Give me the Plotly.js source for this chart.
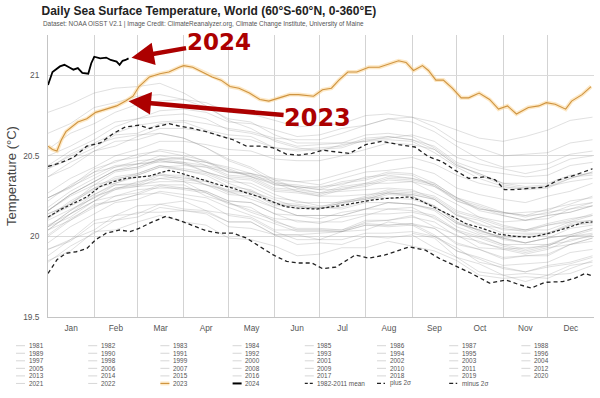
<!DOCTYPE html>
<html><head><meta charset="utf-8">
<script src="https://cdn.plot.ly/plotly-3.0.1.min.js"></script>
<style>html,body{margin:0;padding:0;background:#fff}#chart{width:600px;height:398px}</style>
</head><body><div id="chart"></div>
<script>
// ---------- DATA ----------
const titleText = 'Daily Sea Surface Temperature, World (60°S-60°N, 0-360°E)';
const subtitleText = 'Dataset: NOAA OISST V2.1 | Image Credit: ClimateReanalyzer.org, Climate Change Institute, University of Maine';
const monthTicks = ['Jan','Feb','Mar','Apr','May','Jun','Jul','Aug','Sep','Oct','Nov','Dec'];

// day-of-year sampling used for the background years
const daysGrid = [1,16,32,46,61,76,92,107,122,137,153,168,183,198,214,229,245,260,275,290,306,321,336,351,366];

const y1981 = [null,null,null,null,null,null,null,null,null,null,null,null,null,null,null,null,20.02,19.99,19.87,19.83,19.76,19.77,19.76,19.82,19.84];
const y1982 = [19.84,19.94,20.02,20.10,20.12,20.18,20.16,20.15,20.09,20.09,20.01,20.01,20.02,20.03,20.09,20.10,20.12,20.09,20.00,19.97,19.92,19.93,19.94,20.00,20.04];
const y1983 = [20.10,20.17,20.24,20.30,20.31,20.32,20.32,20.25,20.21,20.15,20.10,20.04,20.04,20.03,20.07,20.06,20.07,20.00,19.93,19.84,19.81,19.78,19.81,19.83,19.87];
const y1984 = [19.92,19.97,20.08,20.10,20.15,20.15,20.16,20.14,20.06,20.05,20.01,19.95,19.96,19.95,20.00,19.99,20.01,19.93,19.87,19.78,19.76,19.72,19.76,19.77,19.82];
const y1985 = [19.85,19.91,20.03,20.04,20.09,20.13,20.09,20.07,19.99,19.98,19.94,19.88,19.89,19.93,19.93,19.97,19.94,19.91,19.85,19.76,19.74,19.75,19.74,19.80,19.85];
const y1986 = [19.88,19.98,20.04,20.13,20.14,20.20,20.17,20.16,20.09,20.09,20.01,20.01,19.98,20.03,20.04,20.09,20.07,20.05,19.95,19.92,19.86,19.88,19.88,19.95,19.99];
const y1987 = [20.04,20.14,20.22,20.30,20.32,20.38,20.35,20.34,20.27,20.27,20.19,20.19,20.17,20.21,20.23,20.27,20.26,20.23,20.13,20.10,20.04,20.04,20.04,20.09,20.10];
const y1988 = [20.12,20.19,20.26,20.32,20.32,20.34,20.34,20.27,20.20,20.18,20.09,20.05,20.05,20.04,20.08,20.07,20.08,20.01,19.91,19.86,19.80,19.78,19.82,19.84,19.88];
const y1989 = [19.92,19.98,20.10,20.13,20.19,20.20,20.22,20.16,20.14,20.12,20.04,20.04,20.04,20.04,20.10,20.10,20.13,20.06,20.01,19.93,19.92,19.89,19.92,19.98,20.00];
const y1990 = [20.06,20.16,20.24,20.32,20.33,20.39,20.36,20.35,20.28,20.28,20.21,20.20,20.18,20.22,20.24,20.28,20.27,20.24,20.15,20.11,20.06,20.04,20.08,20.11,20.13];
const y1991 = [20.14,20.20,20.32,20.35,20.39,20.44,20.41,20.38,20.31,20.29,20.21,20.17,20.18,20.17,20.21,20.21,20.20,20.16,20.06,20.01,19.95,19.95,19.95,20.00,20.01];
const y1992 = [20.04,20.10,20.20,20.22,20.26,20.27,20.24,20.21,20.13,20.11,20.03,19.98,19.98,19.98,20.02,20.02,20.03,20.00,19.91,19.87,19.82,19.83,19.84,19.90,19.92];
const y1993 = [19.96,20.06,20.14,20.21,20.23,20.28,20.26,20.24,20.18,20.13,20.08,20.03,20.03,20.03,20.07,20.07,20.08,20.05,19.96,19.92,19.87,19.88,19.89,19.95,19.97];
const y1994 = [20.00,20.10,20.18,20.25,20.27,20.32,20.30,20.28,20.22,20.21,20.14,20.13,20.11,20.15,20.17,20.21,20.20,20.17,20.08,20.04,19.99,20.00,20.01,20.07,20.09];
const y1995 = [20.14,20.20,20.30,20.33,20.37,20.38,20.38,20.32,20.28,20.23,20.18,20.13,20.13,20.13,20.17,20.17,20.18,20.11,20.04,19.96,19.93,19.90,19.93,19.95,19.99];
const y1996 = [20.01,20.11,20.19,20.22,20.26,20.31,20.29,20.27,20.21,20.16,20.11,20.10,20.08,20.12,20.14,20.14,20.15,20.12,20.03,19.99,19.94,19.91,19.94,20.00,20.02];
const y1997 = [20.06,20.16,20.26,20.33,20.38,20.43,20.44,20.43,20.40,20.39,20.36,20.34,20.35,20.39,20.43,20.47,20.49,20.45,20.38,20.33,20.30,20.30,20.31,20.36,20.40];
const y1998 = [20.43,20.50,20.57,20.61,20.63,20.64,20.61,20.55,20.47,20.42,20.33,20.28,20.25,20.25,20.26,20.27,20.25,20.19,20.09,20.04,19.98,19.96,19.99,20.01,20.05];
const y1999 = [20.06,20.12,20.22,20.25,20.29,20.30,20.30,20.28,20.22,20.21,20.14,20.09,20.09,20.09,20.13,20.17,20.16,20.13,20.04,20.00,19.95,19.92,19.95,19.97,20.01];
const y2000 = [20.04,20.14,20.22,20.29,20.31,20.36,20.34,20.32,20.26,20.25,20.18,20.13,20.13,20.13,20.17,20.21,20.20,20.17,20.08,20.04,19.99,19.96,19.99,20.05,20.07];
const y2001 = [20.12,20.22,20.30,20.37,20.39,20.44,20.42,20.40,20.34,20.33,20.26,20.21,20.21,20.21,20.25,20.29,20.28,20.25,20.16,20.12,20.07,20.04,20.07,20.09,20.13];
const y2002 = [20.16,20.26,20.34,20.41,20.43,20.48,20.46,20.44,20.38,20.37,20.30,20.29,20.27,20.31,20.33,20.37,20.36,20.33,20.24,20.17,20.15,20.13,20.14,20.19,20.21];
const y2003 = [20.24,20.30,20.40,20.43,20.47,20.48,20.48,20.46,20.40,20.39,20.32,20.31,20.29,20.29,20.33,20.33,20.34,20.31,20.22,20.18,20.13,20.10,20.13,20.15,20.19];
const y2004 = [20.18,20.28,20.36,20.43,20.45,20.46,20.46,20.40,20.36,20.35,20.28,20.27,20.25,20.29,20.31,20.35,20.34,20.27,20.20,20.12,20.09,20.10,20.11,20.17,20.19];
const y2005 = [20.22,20.32,20.40,20.47,20.49,20.54,20.52,20.46,20.42,20.37,20.32,20.31,20.29,20.33,20.35,20.39,20.38,20.31,20.24,20.16,20.13,20.10,20.13,20.15,20.19];
const y2006 = [20.16,20.25,20.32,20.40,20.42,20.47,20.45,20.43,20.37,20.36,20.29,20.28,20.26,20.30,20.32,20.36,20.35,20.32,20.23,20.19,20.14,20.15,20.16,20.22,20.24];
const y2007 = [20.24,20.31,20.38,20.44,20.45,20.47,20.45,20.40,20.36,20.31,20.24,20.22,20.19,20.20,20.24,20.24,20.23,20.19,20.09,20.02,19.99,19.96,19.99,20.01,20.05];
const y2008 = [20.07,20.14,20.25,20.29,20.34,20.36,20.37,20.32,20.29,20.27,20.20,20.19,20.17,20.21,20.23,20.27,20.26,20.23,20.14,20.07,20.05,20.03,20.07,20.10,20.14];
const y2009 = [20.16,20.26,20.34,20.41,20.45,20.50,20.48,20.46,20.43,20.39,20.35,20.34,20.32,20.36,20.40,20.41,20.43,20.39,20.30,20.26,20.23,20.21,20.25,20.28,20.33];
const y2010 = [20.37,20.46,20.53,20.59,20.60,20.64,20.61,20.55,20.48,20.43,20.35,20.30,20.27,20.28,20.29,20.30,20.29,20.23,20.13,20.08,20.02,20.02,20.02,20.07,20.08];
const y2011 = [20.11,20.21,20.29,20.36,20.38,20.43,20.41,20.39,20.33,20.28,20.23,20.18,20.18,20.18,20.22,20.26,20.25,20.18,20.11,20.03,20.00,20.01,20.02,20.08,20.10];
const y2012 = [20.16,20.26,20.34,20.41,20.43,20.48,20.49,20.44,20.41,20.37,20.33,20.32,20.30,20.34,20.36,20.40,20.39,20.33,20.24,20.20,20.15,20.12,20.15,20.17,20.21];
const y2013 = [20.24,20.31,20.42,20.46,20.51,20.53,20.50,20.47,20.40,20.38,20.34,20.30,20.31,20.32,20.37,20.38,20.36,20.32,20.22,20.17,20.15,20.13,20.17,20.20,20.25];
const y2014 = [20.27,20.36,20.43,20.50,20.54,20.59,20.59,20.57,20.54,20.53,20.48,20.47,20.47,20.50,20.54,20.58,20.57,20.54,20.44,20.39,20.33,20.33,20.33,20.38,20.39];
const y2015 = [20.42,20.51,20.58,20.64,20.69,20.71,20.72,20.70,20.67,20.65,20.61,20.60,20.60,20.64,20.69,20.73,20.74,20.71,20.66,20.61,20.59,20.62,20.66,20.72,20.74];
const y2016 = [20.77,20.82,20.89,20.92,20.93,20.95,20.89,20.81,20.72,20.67,20.59,20.55,20.53,20.57,20.59,20.60,20.59,20.52,20.43,20.36,20.31,20.29,20.30,20.36,20.40];
const y2017 = [20.44,20.53,20.60,20.68,20.73,20.75,20.76,20.73,20.66,20.64,20.60,20.56,20.57,20.58,20.63,20.64,20.62,20.55,20.45,20.38,20.32,20.30,20.31,20.34,20.36];
const y2018 = [20.37,20.43,20.53,20.56,20.62,20.67,20.67,20.65,20.61,20.60,20.55,20.53,20.54,20.55,20.60,20.61,20.63,20.59,20.49,20.45,20.42,20.39,20.42,20.48,20.50];
const y2019 = [20.54,20.64,20.70,20.77,20.82,20.84,20.85,20.83,20.77,20.76,20.72,20.68,20.69,20.70,20.75,20.76,20.74,20.68,20.59,20.55,20.50,20.51,20.52,20.58,20.60];
const y2020 = [20.64,20.70,20.80,20.83,20.87,20.88,20.85,20.80,20.73,20.71,20.63,20.58,20.58,20.58,20.59,20.62,20.60,20.54,20.44,20.39,20.33,20.31,20.32,20.37,20.38];
const y2021 = [20.42,20.48,20.55,20.63,20.64,20.70,20.71,20.66,20.63,20.62,20.55,20.54,20.55,20.56,20.61,20.62,20.60,20.56,20.46,20.41,20.39,20.37,20.38,20.44,20.46];
const y2022 = [20.50,20.56,20.64,20.71,20.73,20.78,20.79,20.77,20.71,20.70,20.66,20.62,20.63,20.67,20.69,20.73,20.71,20.65,20.56,20.48,20.43,20.44,20.45,20.51,20.53];

const grayYears = [1981,1982,1983,1984,1985,1986,1987,1988,1989,1990,1991,1992,1993,1994,1995,1996,1997,1998,1999,2000,2001,2002,2003,2004,2005,2006,2007,2008,2009,2010,2011,2012,2013,2014,2015,2016,2017,2018,2019,2020,2021,2022];
const graySeries = [y1981,y1982,y1983,y1984,y1985,y1986,y1987,y1988,y1989,y1990,y1991,y1992,y1993,y1994,y1995,y1996,y1997,y1998,y1999,y2000,y2001,y2002,y2003,y2004,y2005,y2006,y2007,y2008,y2009,y2010,y2011,y2012,y2013,y2014,y2015,y2016,y2017,y2018,y2019,y2020,y2021,y2022];

const days2023 = [1,4,7,10,13,17,21,27,33,40,47,53,58,62,69,76,82,89,92,98,105,111,117,123,129,136,143,149,156,163,169,179,185,191,196,202,208,216,223,230,236,241,246,252,256,261,266,272,278,283,290,297,303,309,315,323,330,335,341,348,352,359,365];
const sst2023 = [20.56,20.54,20.53,20.60,20.65,20.68,20.71,20.73,20.77,20.79,20.81,20.84,20.87,20.93,20.99,21.01,21.02,21.05,21.06,21.05,21.02,20.99,20.97,20.93,20.92,20.89,20.85,20.84,20.86,20.88,20.88,20.87,20.91,20.92,20.97,21.02,21.02,21.05,21.05,21.07,21.09,21.08,21.03,21.06,21.03,20.97,20.97,20.92,20.86,20.86,20.89,20.85,20.79,20.81,20.76,20.80,20.81,20.83,20.82,20.79,20.84,20.88,20.93];

const days2024 = [1,4,9,12,16,18,21,24,28,30,32,36,40,43,47,49,51,53,55];
const sst2024 = [20.94,21.02,21.055,21.065,21.045,21.035,21.045,21.015,21.01,21.075,21.115,21.105,21.11,21.095,21.085,21.065,21.09,21.095,21.105];

const daysMean = [1,9,18,27,36,45,53,62,69,76,82,89,98,107,116,125,134,143,152,160,169,181,196,210,218,227,243,250,259,270,281,292,303,314,325,337,348,359,366];
const meanVals = [20.12,20.165,20.205,20.245,20.31,20.34,20.36,20.37,20.375,20.395,20.41,20.395,20.37,20.345,20.32,20.30,20.27,20.245,20.215,20.185,20.175,20.17,20.19,20.215,20.225,20.235,20.245,20.225,20.185,20.135,20.08,20.05,20.015,20.0,19.995,20.02,20.05,20.085,20.09];

const daysPlus = [1,9,18,27,36,45,53,62,69,76,82,89,98,107,116,125,134,143,152,161,169,178,185,194,203,214,225,236,247,256,265,274,283,294,301,307,314,325,334,343,354,366];
const plusVals = [20.435,20.455,20.49,20.56,20.58,20.64,20.68,20.69,20.67,20.685,20.70,20.685,20.67,20.65,20.625,20.60,20.56,20.56,20.55,20.51,20.505,20.515,20.535,20.525,20.515,20.57,20.59,20.57,20.555,20.495,20.465,20.41,20.36,20.37,20.35,20.29,20.29,20.30,20.305,20.35,20.38,20.42];

const daysMinus = [1,7,13,20,27,33,40,49,56,62,71,80,89,98,107,116,125,134,143,152,161,169,178,185,194,207,216,227,243,254,263,274,285,297,308,317,325,334,346,354,361,366];
const minusVals = [19.77,19.855,19.895,19.905,19.925,19.98,20.02,20.04,20.03,20.05,20.09,20.125,20.10,20.065,20.035,20.02,20.02,19.99,19.935,19.885,19.845,19.835,19.835,19.80,19.81,19.885,19.865,19.885,19.935,19.915,19.865,19.82,19.77,19.71,19.73,19.70,19.68,19.715,19.72,19.74,19.77,19.755];

const extraLabels = ['2023','2024','1982-2011 mean','plus 2σ','minus 2σ'];

// ---------- STYLES ----------
const FONT = 'Liberation Sans, Arial, sans-serif';
const grayColor = 'rgba(140,140,140,0.34)';
const orange = '#cf9440';
const glow = 'rgba(252,214,150,0.55)';
const darkRed = '#ac0000';

function toDate(d){ return new Date(Date.UTC(2024,0,d)).toISOString().slice(0,10); }

const traces = [];
graySeries.forEach(function(vals){
  traces.push({type:'scatter',mode:'lines',x:daysGrid.map(toDate),y:vals,
    line:{color:grayColor,width:0.8},showlegend:false,hoverinfo:'skip'});
});
traces.push({type:'scatter',mode:'lines',x:daysPlus.map(toDate),y:plusVals,line:{color:'#222',width:1.3,dash:'4px,3px'},showlegend:false});
traces.push({type:'scatter',mode:'lines',x:daysMinus.map(toDate),y:minusVals,line:{color:'#222',width:1.3,dash:'4px,3px'},showlegend:false});
traces.push({type:'scatter',mode:'lines',x:daysMean.map(toDate),y:meanVals,line:{color:'#222',width:1.2,dash:'3px,2px'},showlegend:false});
traces.push({type:'scatter',mode:'lines',x:days2023.map(toDate),y:sst2023,line:{color:glow,width:4},showlegend:false});
traces.push({type:'scatter',mode:'lines',x:days2023.map(toDate),y:sst2023,line:{color:orange,width:1.1},showlegend:false});
traces.push({type:'scatter',mode:'lines',x:days2024.map(toDate),y:sst2024,line:{color:'#000',width:1.8},showlegend:false});

// ---------- LAYOUT ----------
const W = 600, H = 398, ML = 48, MR = 6, MT = 35, MB = 81;
const PW = W - ML - MR, PH = H - MT - MB;
function px2paperX(px){ return (px - ML) / PW; }
function px2paperY(py){ return (H - MB - py) / PH; }

const annotations = [];
const shapes = [];

// subtitle
annotations.push({xref:'paper',yref:'paper',x:px2paperX(41.5),y:px2paperY(24),xanchor:'left',yanchor:'middle',
  text:subtitleText,showarrow:false,font:{family:FONT,size:6.4,color:'#555'},borderpad:0});

// arrows with labels, pointing at the data
const last24 = days2024.length - 1;
annotations.push({x:toDate(days2024[last24]),y:sst2024[last24],xref:'x',yref:'y',text:'<b>2024</b>',
  showarrow:true,arrowhead:2,arrowsize:1,arrowwidth:4.5,arrowcolor:darkRed,standoff:3,ax:90,ay:-16,
  font:{family:'DejaVu Sans',size:23,color:darkRed},borderpad:0});
const i23 = 11;
annotations.push({x:toDate(days2023[i23]),y:sst2023[i23],xref:'x',yref:'y',text:'<b>2023</b>',
  showarrow:true,arrowhead:2,arrowsize:1,arrowwidth:4.5,arrowcolor:darkRed,standoff:3,ax:192,ay:17,
  font:{family:'DejaVu Sans',size:24,color:darkRed},borderpad:0});

// custom legend (8 columns, row-major)
const legendLabels = grayYears.map(String).concat(extraLabels);
legendLabels.forEach(function(lab, i){
  const col = i % 8, row = Math.floor(i / 8);
  const sx = 16 + 72.2 * col, sy = 345.7 + 7.55 * row;
  annotations.push({xref:'paper',yref:'paper',x:px2paperX(sx + 11.5),y:px2paperY(sy),xanchor:'left',yanchor:'middle',
    text:lab,showarrow:false,font:{family:FONT,size:6.4,color:'#555'},borderpad:0});
  let line;
  if (lab === '2023') {
    shapes.push({type:'line',xref:'paper',yref:'paper',x0:px2paperX(sx),x1:px2paperX(sx+9),y0:px2paperY(sy),y1:px2paperY(sy),line:{color:glow,width:4}});
    line = {color:orange,width:1.1};
  } else if (lab === '2024') line = {color:'#000',width:2};
  else if (lab === '1982-2011 mean') line = {color:'#222',width:1.3,dash:'3px,2px'};
  else if (lab === 'plus 2σ' || lab === 'minus 2σ') line = {color:'#222',width:1.3,dash:'4px,2.5px,1.5px,2.5px'};
  else line = {color:'rgba(140,140,140,0.4)',width:0.9};
  shapes.push({type:'line',xref:'paper',yref:'paper',x0:px2paperX(sx),x1:px2paperX(sx+9),y0:px2paperY(sy),y1:px2paperY(sy),line:line});
});

const layout = {
  width:W,height:H,margin:{l:ML,r:MR,t:MT,b:MB,pad:0},
  paper_bgcolor:'#fff',plot_bgcolor:'#fff',showlegend:false,hovermode:false,
  font:{family:FONT,color:'#555'},
  title:{text:titleText,x:41.5/W,xanchor:'left',xref:'container',y:1-10.5/H,yanchor:'middle',yref:'container',
    font:{family:FONT,size:12,color:'#222',weight:'bold'}},
  xaxis:{type:'date',range:['2024-01-01','2025-01-01'],tick0:'2024-01-01',dtick:'M1',tickformat:'%b',ticklabelmode:'period',
    showgrid:true,gridcolor:'#d3d3d3',gridwidth:1,showline:true,linecolor:'#c4c4c4',linewidth:1,zeroline:false,
    ticks:'',ticklabelstandoff:3,tickfont:{family:FONT,size:8.3,color:'#555'}},
  yaxis:{range:[19.5,21.25],tick0:19.5,dtick:0.5,showgrid:true,gridcolor:'#dadada',gridwidth:1,showline:true,linecolor:'#c4c4c4',
    zeroline:false,ticks:'',ticklabelstandoff:6,tickfont:{family:FONT,size:8.3,color:'#555'},
    title:{text:'Temperature (°C)',standoff:3,font:{family:FONT,size:13,color:'#444'}}},
  annotations:annotations,shapes:shapes
};

Plotly.newPlot('chart',traces,layout,{staticPlot:true,displayModeBar:false});
</script></body></html>
